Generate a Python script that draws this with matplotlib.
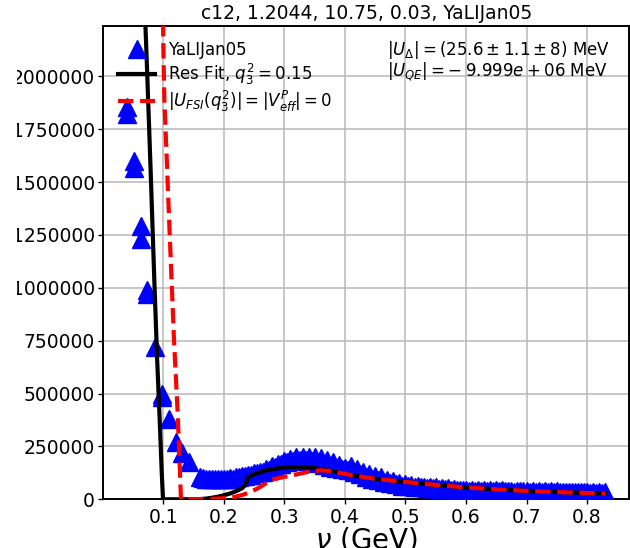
import matplotlib
matplotlib.use("Agg")
import matplotlib.pyplot as plt
from matplotlib.ticker import FixedLocator, FuncFormatter
from matplotlib.transforms import Bbox, TransformedBbox

# Measured cross section, low-nu tail (nu in GeV)
nu_low = [0.0404, 0.0404, 0.0520, 0.0520, 0.0637, 0.0637, 0.0726, 0.0726,
          0.0863, 0.0975, 0.0975, 0.1094, 0.1210, 0.1303, 0.1430]
xs_low = [1854000, 1820000, 1601000, 1565000, 1294000, 1229000, 991000, 972000,
          719000, 500000, 485000, 378000, 272000, 217000, 178000]

# Measured cross section, QE / Delta region (upper row of points)
nu_band_hi = [0.16, 0.17, 0.18, 0.19, 0.20, 0.21, 0.22, 0.23, 0.24, 0.25,
              0.26, 0.27, 0.28, 0.29, 0.30, 0.31, 0.32, 0.33, 0.34, 0.35,
              0.36, 0.37, 0.38, 0.39, 0.40, 0.41, 0.42, 0.43, 0.44, 0.45,
              0.46, 0.47, 0.48, 0.49, 0.50, 0.51, 0.52, 0.53, 0.54, 0.55,
              0.56, 0.57, 0.58, 0.59, 0.60, 0.61, 0.62, 0.63, 0.64, 0.65,
              0.66, 0.67, 0.68, 0.69, 0.70, 0.71, 0.72, 0.73, 0.74, 0.75,
              0.76, 0.77, 0.78, 0.79, 0.80, 0.81, 0.82, 0.83]
xs_band_hi = [105000, 98000, 96000, 96000, 96000, 101000, 105000, 110000, 117000, 124000,
              131000, 141000, 155000, 169000, 183000, 191000, 198000, 200000, 200000, 198000,
              193000, 186000, 176000, 162000, 148000, 155000, 143000, 131000, 120000, 110000,
              103000, 91000, 87000, 79000, 72000, 68000, 63000, 60000, 58000, 56000,
              53000, 51000, 49000, 46000, 44000, 44000, 44000, 44000, 42000, 42000,
              42000, 39000, 36000, 39000, 39000, 39000, 39000, 39000, 39000, 37000,
              35000, 33000, 35000, 35000, 35000, 35000, 35000, 35000]

# Measured cross section, QE / Delta region (lower row of points)
nu_band_lo = [0.165, 0.175, 0.185, 0.195, 0.205, 0.215, 0.225, 0.235, 0.245, 0.255,
              0.265, 0.275, 0.285, 0.295, 0.305, 0.315, 0.325, 0.335, 0.345, 0.355,
              0.365, 0.375, 0.385, 0.395, 0.405, 0.415, 0.425, 0.435, 0.445, 0.455,
              0.465, 0.475, 0.485, 0.495, 0.505, 0.515, 0.525, 0.535, 0.545, 0.555,
              0.565, 0.575, 0.585, 0.595, 0.605, 0.615, 0.625, 0.635, 0.645, 0.655,
              0.665, 0.675, 0.685, 0.695, 0.705, 0.715, 0.725, 0.735, 0.745, 0.755,
              0.765, 0.775, 0.785, 0.795, 0.805, 0.815, 0.825]
xs_band_lo = [101000, 96000, 95000, 95000, 96000, 98000, 103000, 108000, 115000, 122000,
              129000, 139000, 153000, 167000, 176000, 181000, 186000, 186000, 181000, 172000,
              162000, 153000, 146000, 143000, 139000, 129000, 120000, 105000, 96000, 89000,
              84000, 77000, 72000, 65000, 63000, 58000, 56000, 53000, 52000, 50000,
              48000, 46000, 44000, 42000, 41000, 41000, 40000, 40000, 39000, 39000,
              38000, 38000, 37000, 37000, 36000, 36000, 35000, 35000, 35000, 34000,
              34000, 33000, 33000, 33000, 32000, 32000, 32000]

# Resonance fit
nu_fit = [0.0690, 0.0726, 0.0790, 0.0851, 0.0900, 0.0945, 0.0975, 0.0995, 0.1100,
          0.1300, 0.1450, 0.1600, 0.1700, 0.1800, 0.1900, 0.2000, 0.2100, 0.2200,
          0.2300, 0.2350, 0.2405, 0.2500, 0.2600, 0.2700, 0.2800, 0.2900, 0.3000,
          0.3100, 0.3200, 0.3300, 0.3400, 0.3500, 0.3600, 0.3800, 0.4000, 0.4200,
          0.4500, 0.5000, 0.5500, 0.6000, 0.6500, 0.7000, 0.7500, 0.8000, 0.8300]
xs_fit = [2350000, 2077000, 1560000, 1040000, 650000, 343000, 120000, 0, 0,
          0, 0, 1000, 3000, 7000, 12000, 19000, 27000, 38000,
          52000, 66000, 105000, 118000, 128000, 136000, 142000, 147000, 150000,
          152000, 153000, 152000, 150000, 147000, 143000, 133000, 120000, 110000,
          97000, 82000, 68000, 56000, 47000, 40000, 34000, 30000, 27000]

# Calculation without FSI
nu_nofsi = [0.0990, 0.1000, 0.1017, 0.1058, 0.1099, 0.1177, 0.1237, 0.1292,
            0.1500, 0.1800, 0.2000, 0.2170, 0.2300, 0.2440, 0.2600, 0.2770,
            0.2900, 0.3000, 0.3260, 0.3400, 0.3590, 0.3750, 0.3900, 0.4000,
            0.4200, 0.4500, 0.5000, 0.5500, 0.6000, 0.6500, 0.7000, 0.7500,
            0.8000, 0.8300]
xs_nofsi = [2400000, 2150000, 1890000, 1600000, 1300000, 750000, 410000, 0,
            0, 2000, 5000, 11000, 20000, 34000, 58000, 90000,
            100000, 106000, 121000, 130000, 137000, 134000, 126000, 120000,
            110000, 97000, 82000, 68000, 56000, 47000, 40000, 34000,
            30000, 27000]

x_ticks = [0.1, 0.2, 0.3, 0.4, 0.5, 0.6, 0.7, 0.8]
y_ticks = [0, 250000, 500000, 750000, 1000000, 1250000, 1500000, 1750000, 2000000]

title = "c12, 1.2044, 10.75, 0.03, YaLIJan05"
data_label = "YaLIJan05"
fit_label = r"Res Fit, $q_3^2 = 0.15$"
nofsi_label = r"$|U_{FSI}(q_3^2)| = |V_{eff}^P| = 0$"
udelta_text = r"$|U_{\Delta}| = (25.6 \pm 1.1 \pm 8)$ MeV"
uqe_text = r"$|U_{QE}| = -\:9.999e+06$ MeV"

fig = plt.figure(figsize=(6.3, 5.48), dpi=100)
ax = fig.add_axes([0.164, 0.0889, 0.8344, 0.8637])

nu_data = nu_low + nu_band_hi + nu_band_lo
xs_data = xs_low + xs_band_hi + xs_band_lo
ax.plot(nu_data, xs_data, linestyle="none", marker="^", color="blue",
        markersize=13, label=data_label, zorder=3)
ax.plot(nu_fit, xs_fit, "-", color="black", lw=3, label=fit_label, zorder=4)
ax.plot(nu_nofsi, xs_nofsi, "--", color="red", lw=3, label=nofsi_label, zorder=5)

ax.set_xlim(0.0009, 0.8693)
ax.set_ylim(0, 2237800)
ax.xaxis.set_major_locator(FixedLocator(x_ticks))
ax.yaxis.set_major_locator(FixedLocator(y_ticks))
ax.xaxis.set_major_formatter(FuncFormatter(lambda v, p: f"{v:.1f}"))
ax.yaxis.set_major_formatter(FuncFormatter(lambda v, p: f"{int(round(v))}"))
ax.tick_params(labelsize=13.5, length=3.5, width=1, pad=2.5)
ax.grid(True, color="#b8b8b8", lw=1.1)
for s in ax.spines.values():
    s.set_linewidth(1.4)

ax.set_title(title, fontsize=13.5, pad=5)
ax.set_xlabel(r"$\nu$ (GeV)", fontsize=20, labelpad=-1)

ax.legend(loc="upper left", frameon=False, fontsize=12, numpoints=1,
          handlelength=2.2, borderaxespad=0.5, labelspacing=0.15)
ax.text(0.539, 0.949, udelta_text, transform=ax.transAxes, fontsize=12, va="center")
ax.text(0.539, 0.903, uqe_text, transform=ax.transAxes, fontsize=12, va="center")

# the y labels run into the left margin; trim them at the page edge strip
fig.canvas.draw()
edge = TransformedBbox(Bbox.from_extents(17 / 630, 0, 1, 1), fig.transFigure)
for tick in ax.yaxis.get_major_ticks():
    tick.label1.set_clip_box(edge)
    tick.label1.set_clip_on(True)

fig.savefig("out.png", dpi=100)
